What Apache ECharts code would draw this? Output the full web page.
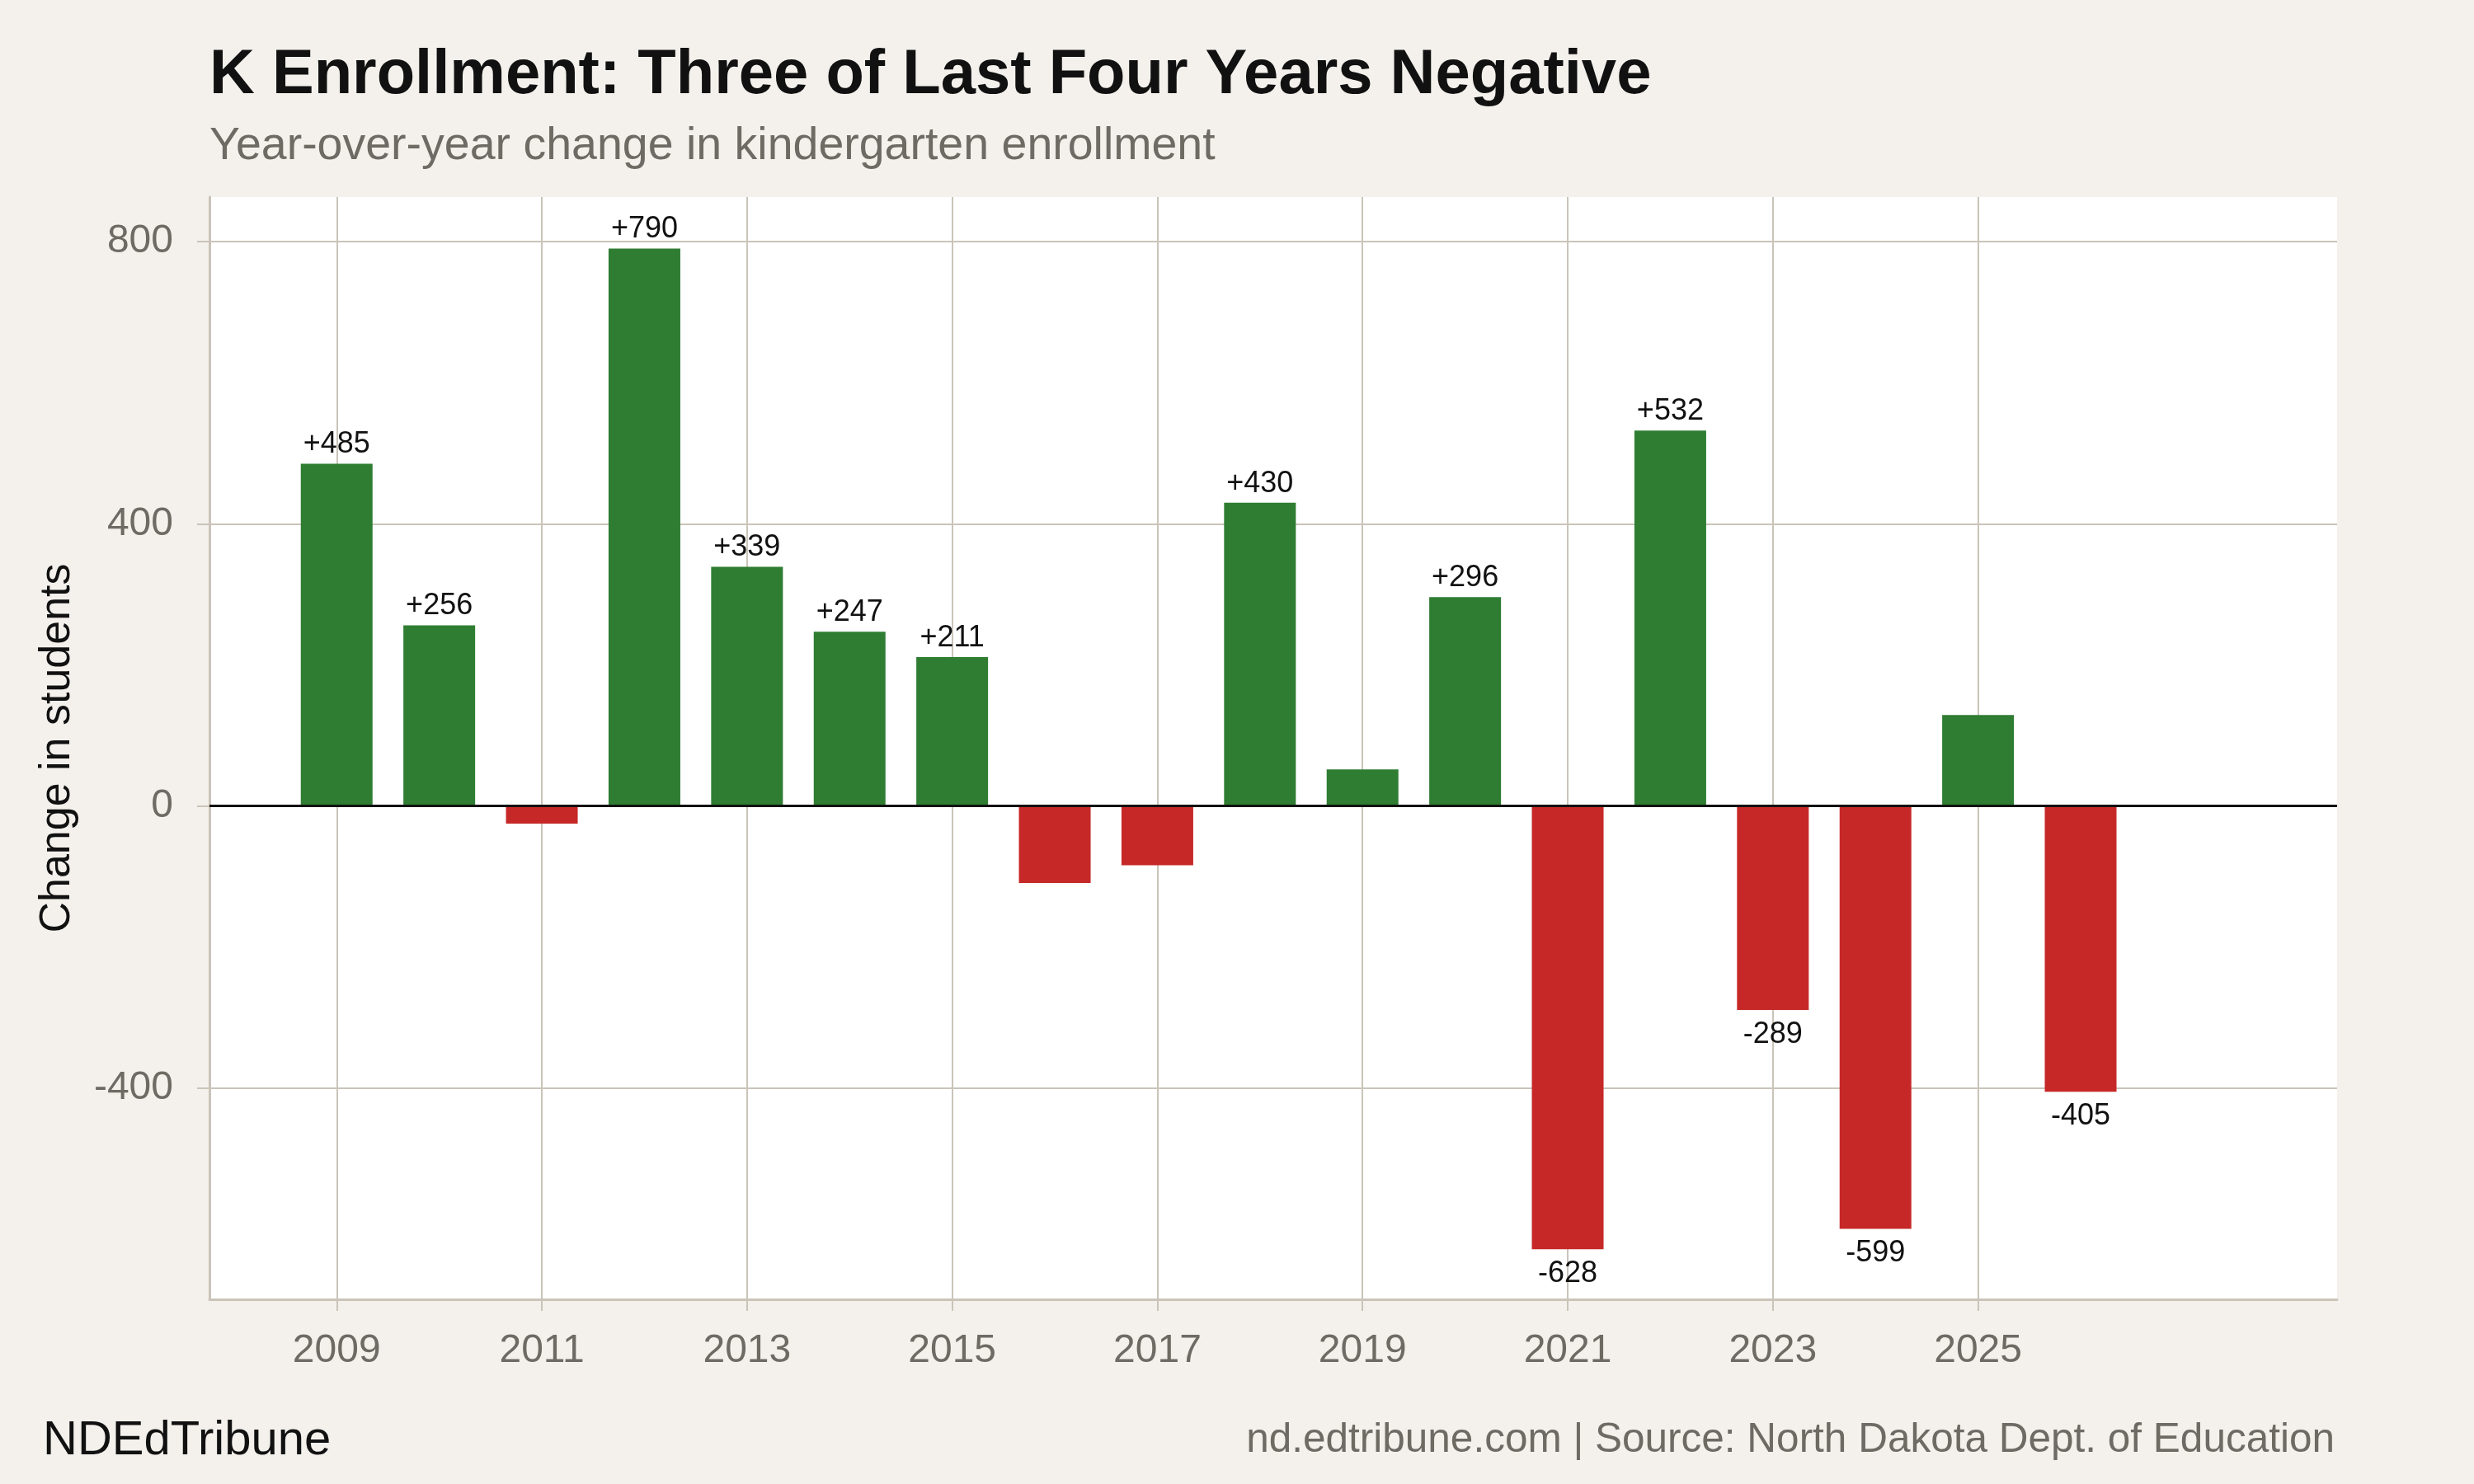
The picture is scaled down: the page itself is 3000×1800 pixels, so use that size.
<!DOCTYPE html>
<html>
<head>
<meta charset="utf-8">
<title>K Enrollment</title>
<script src="https://cdn.jsdelivr.net/npm/echarts@6/dist/echarts.min.js"></script>
<style>
    html, body { margin: 0; padding: 0; background: #f4f1ec; }
    #chart { width: 3000px; height: 1800px; }
</style>
</head>
<body>
<div id="chart"></div>
<script>
// 数据
var years = [2009, 2010, 2011, 2012, 2013, 2014, 2015, 2016, 2017, 2018, 2019, 2020, 2021, 2022, 2023, 2024, 2025, 2026]
var changes = [485, 256, -25, 790, 339, 247, 211, -109, -84, 430, 52, 296, -628, 532, -289, -599, 129, -405]
// 刻度
var xTicks = [2009, 2011, 2013, 2015, 2017, 2019, 2021, 2023, 2025]
var yTicks = [-400, 0, 400, 800]

var GREEN = '#2e7d32'
var RED = '#c62828'
var GRID = '#cac4b9'
var GRAY = '#6e6a64'
var FONT = 'Liberation Sans'

// 柱子数据（正绿负红）
var barData = []
for (var i = 0; i < years.length; i++) {
    barData.push({
        value: [years[i], changes[i]],
        itemStyle: { color: changes[i] >= 0 ? GREEN : RED },
        label: {
            show: Math.abs(changes[i]) >= 200,
            position: changes[i] >= 0 ? 'top' : 'bottom',
            distance: changes[i] >= 0 ? 5 : 12
        }
    })
}

var myChart = echarts.init(document.getElementById('chart'))

myChart.setOption({
    backgroundColor: '#f4f1ec',
    animation: false,
    // 标题、副标题、底部说明
    title: [
        {
            text: 'K Enrollment: Three of Last Four Years Negative',
            left: 254, top: 54, padding: 0,
            textStyle: { fontFamily: FONT, fontSize: 76, fontWeight: 'bold', color: '#111' }
        },
        {
            text: 'Year-over-year change in kindergarten enrollment',
            left: 254, top: 150, padding: 0,
            textStyle: { fontFamily: FONT, fontSize: 55.5, fontWeight: 'normal', color: GRAY }
        },
        {
            text: 'NDEdTribune',
            left: 52, top: 1719, padding: 0,
            textStyle: { fontFamily: FONT, fontSize: 58, fontWeight: 'normal', color: '#111' }
        },
        {
            text: 'nd.edtribune.com | Source: North Dakota Dept. of Education',
            right: 169, top: 1722, padding: 0,
            textStyle: { fontFamily: FONT, fontSize: 49.5, fontWeight: 'normal', color: GRAY }
        }
    ],
    grid: {
        left: 254,
        right: 166,
        top: 239,
        bottom: 224,
        show: true,
        backgroundColor: '#ffffff',
        borderWidth: 0
    },
    // X轴（年份）
    xAxis: {
        type: 'value',
        min: 2007.76,
        max: 2028.5,
        axisLine: { onZero: false, lineStyle: { color: GRID, width: 3 } },
        axisTick: { show: true, length: 14, customValues: xTicks, lineStyle: { color: GRID, width: 2 } },
        axisLabel: {
            customValues: xTicks,
            margin: 39,
            fontFamily: FONT,
            fontSize: 48,
            color: GRAY,
            formatter: function (v) { return '' + v }
        },
        splitLine: { show: true, lineStyle: { color: GRID, width: 2 } }
    },
    // Y轴
    yAxis: {
        type: 'value',
        min: -699,
        max: 863,
        name: 'Change in students',
        nameLocation: 'middle',
        nameGap: 158,
        nameRotate: 90,
        nameTextStyle: { fontFamily: FONT, fontSize: 52, color: '#111' },
        axisLine: { show: true, lineStyle: { color: GRID, width: 3 } },
        axisTick: { show: true, length: 15, customValues: yTicks, lineStyle: { color: GRID, width: 2 } },
        axisLabel: {
            customValues: yTicks,
            margin: 44,
            fontFamily: FONT,
            fontSize: 48,
            color: GRAY
        },
        splitLine: { show: true, lineStyle: { color: GRID, width: 2 } }
    },
    series: [
        {
            type: 'bar',
            barWidth: 87,
            data: barData,
            label: {
                fontFamily: FONT,
                fontSize: 36,
                color: '#111',
                formatter: function (p) {
                    var v = p.value[1]
                    return v > 0 ? '+' + v : '' + v
                }
            },
            // 零线
            markLine: {
                silent: true,
                symbol: 'none',
                label: { show: false },
                lineStyle: { color: '#111', width: 3, type: 'solid' },
                data: [{ yAxis: 0 }]
            }
        }
    ]
})
</script>
</body>
</html>
